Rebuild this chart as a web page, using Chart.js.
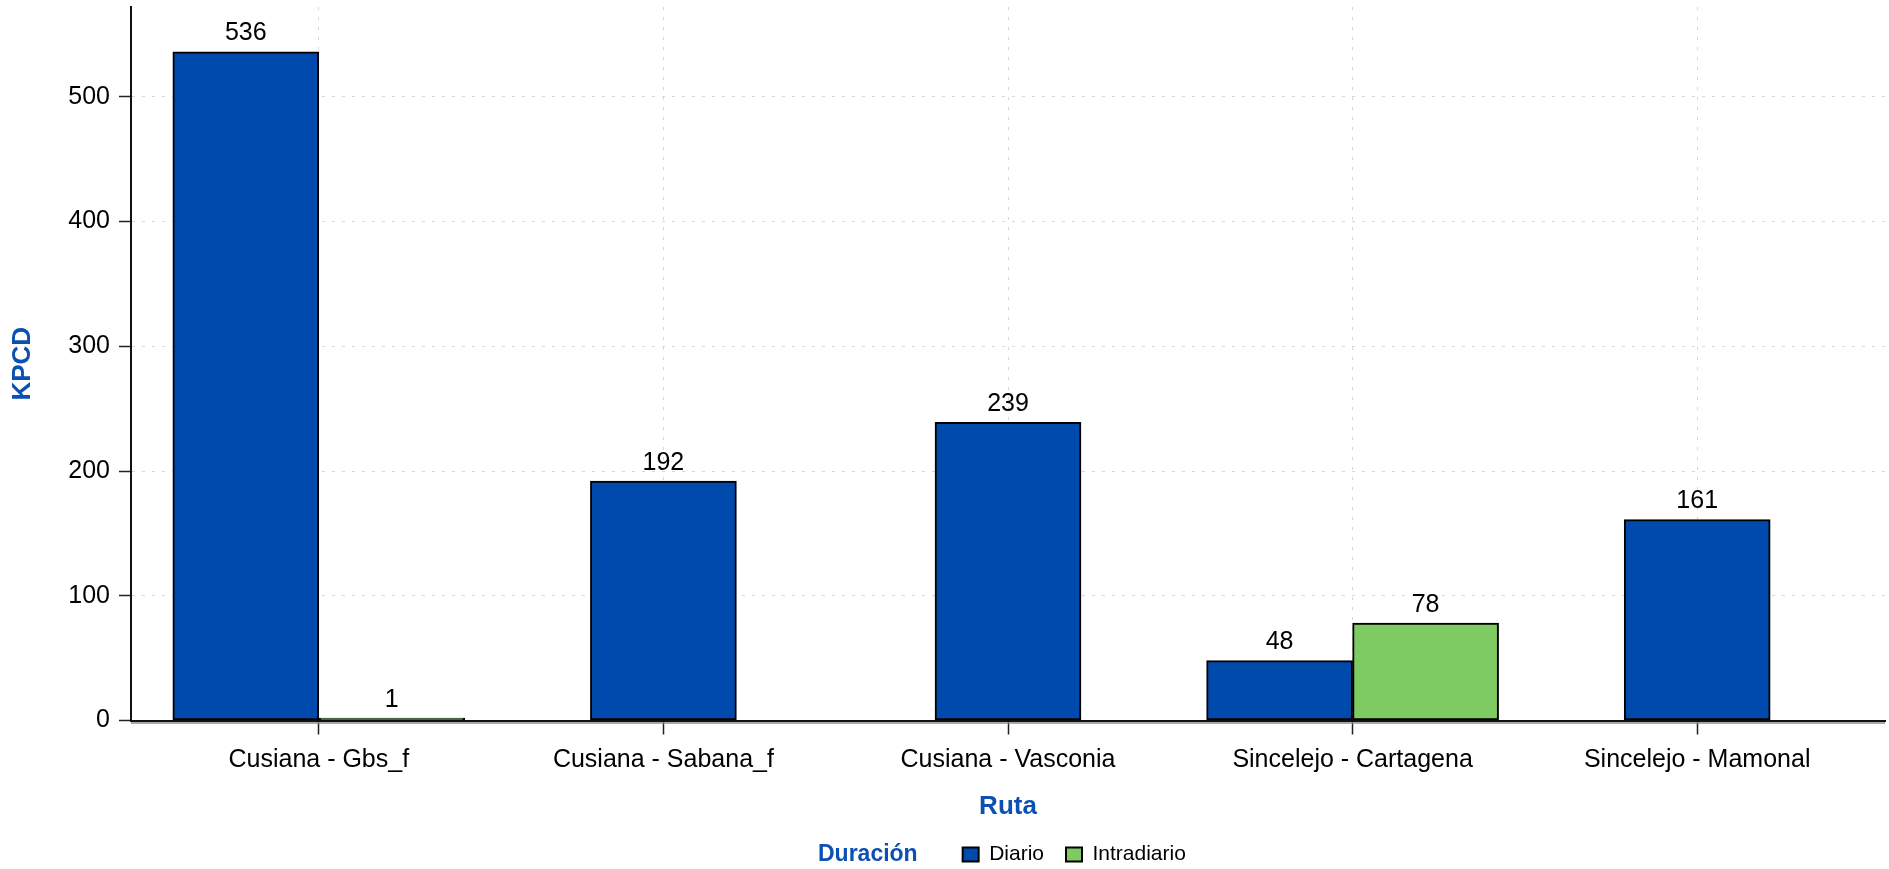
<!DOCTYPE html>
<html>
<head>
<meta charset="utf-8">
<title>KPCD por ruta</title>
<script src="https://cdn.jsdelivr.net/npm/chart.js@4.4.1/dist/chart.umd.min.js"></script>
<style>
  html, body { margin: 0; padding: 0; background: #fff; }
  #wrap { width: 1889px; height: 869px; }
</style>
</head>
<body>
<div id="wrap"><canvas id="myChart" width="1889" height="869"></canvas></div>
<script>
const categories = [
  "Cusiana - Gbs_f",
  "Cusiana - Sabana_f",
  "Cusiana - Vasconia",
  "Sincelejo - Cartagena",
  "Sincelejo - Mamonal",
];
const diario = [536, 192, 239, 48, 161];
const intradiario = [1, null, null, 78, null];
const yTicks = [0, 100, 200, 300, 400, 500];
const yMax = 572;
const seriesNames = ["Diario", "Intradiario"];
const legendTitle = "Duración";
const xTitle = "Ruta";
const yTitle = "KPCD";

const FONT = "'Liberation Sans', Arial, sans-serif";
const BLUE = "#004aad";
const GREEN = "#7dcb62";
const TITLE_BLUE = "#0d50b3";

// value labels above each bar
const barLabels = {
  id: "barLabels",
  afterDatasetsDraw(chart) {
    const ctx = chart.ctx;
    ctx.save();
    ctx.font = "25px " + FONT;
    ctx.fillStyle = "#000";
    ctx.textAlign = "center";
    ctx.textBaseline = "alphabetic";
    chart.data.datasets.forEach((ds, i) => {
      chart.getDatasetMeta(i).data.forEach((bar, j) => {
        const v = ds.data[j];
        if (v === null || v === undefined) return;
        ctx.fillText(v, bar.x, bar.y - 11.5);
      });
    });
    ctx.restore();
  }
};

// grey shadow line under the x axis + bold legend title
const extras = {
  id: "extras",
  afterDraw(chart) {
    const { ctx, chartArea } = chart;
    ctx.save();
    ctx.strokeStyle = "#8c8c8c";
    ctx.lineWidth = 1.5;
    ctx.beginPath();
    ctx.moveTo(chartArea.left, chartArea.bottom + 2.6);
    ctx.lineTo(chartArea.right, chartArea.bottom + 2.6);
    ctx.stroke();

    const boxes = chart.legend.legendHitBoxes;
    if (boxes && boxes.length > 1) {
      ctx.font = "bold 23px " + FONT;
      ctx.fillStyle = TITLE_BLUE;
      ctx.textAlign = "right";
      ctx.textBaseline = "middle";
      ctx.fillText(legendTitle, boxes[1].left - 45, boxes[1].top + boxes[1].height / 2);
    }
    ctx.restore();
  }
};

const ctx = document.getElementById("myChart");

new Chart(ctx, {
  type: "bar",
  data: {
    labels: categories,
    datasets: [
      { label: seriesNames[0], data: diario, backgroundColor: BLUE },
      { label: seriesNames[1], data: intradiario, backgroundColor: GREEN },
    ],
  },
  options: {
    responsive: false,
    animation: false,
    devicePixelRatio: 1,
    layout: { padding: { top: 7, right: 4, bottom: 0, left: 0 } },
    datasets: {
      bar: {
        barThickness: 146,
        minBarLength: 2.5,
        skipNull: true,
        borderColor: "#000",
        borderWidth: 2,
        borderSkipped: false,
      },
    },
    scales: {
      x: {
        offset: true,
        grid: {
          offset: false,
          color: "#d8d8d8",
          lineWidth: 1,
          tickLength: 14,
          tickColor: "#222",
          tickWidth: 1.5,
          tickBorderDash: [],
        },
        border: { color: "#111", width: 2, dash: [3, 7] },
        ticks: {
          color: "#000",
          font: { family: FONT, size: 25 },
          padding: 10.5,
          autoSkip: false,
          maxRotation: 0,
        },
        title: {
          display: true,
          text: xTitle,
          color: TITLE_BLUE,
          font: { family: FONT, size: 26, weight: "bold" },
          padding: { top: 0, bottom: 0 },
        },
        afterBuildTicks(scale) {
          // a bit more room at the ends than half a category
          scale._startValue -= 0.045;
          scale._valueRange += 0.09;
        },
        afterFit(scale) {
          scale.height = 101.5;
          scale.paddingLeft = 0;
          scale.paddingRight = 0;
        },
      },
      y: {
        min: 0,
        max: yMax,
        grid: {
          color: "#d8d8d8",
          lineWidth: 1,
          tickLength: 12,
          tickColor: "#222",
          tickWidth: 1.5,
          tickBorderDash: [],
        },
        border: { color: "#111", width: 2, dash: [3, 7] },
        ticks: {
          color: "#000",
          font: { family: FONT, size: 25 },
          padding: 9,
          includeBounds: false,
        },
        title: {
          display: true,
          text: yTitle,
          color: TITLE_BLUE,
          font: { family: FONT, size: 26, weight: "bold" },
          padding: { top: 7, bottom: 0 },
        },
        afterBuildTicks(scale) {
          scale.ticks = yTicks.map((v) => ({ value: v }));
        },
        afterFit(scale) {
          scale.width = 131;
          scale.paddingTop = 0;
          scale.paddingBottom = 0;
        },
      },
    },
    plugins: {
      legend: {
        position: "bottom",
        fullSize: false,
        maxHeight: 47,
        labels: {
          color: "#000",
          font: { family: FONT, size: 21 },
          boxWidth: 16,
          boxHeight: 14,
          padding: 22,
          generateLabels(chart) {
            const items = Chart.defaults.plugins.legend.labels.generateLabels(chart);
            // placeholder that keeps room for the title drawn by "extras"
            items.unshift({
              text: legendTitle,
              fillStyle: "rgba(0,0,0,0)",
              strokeStyle: "rgba(0,0,0,0)",
              lineWidth: 0,
              fontColor: "rgba(0,0,0,0)",
              hidden: false,
              datasetIndex: -1,
            });
            return items;
          },
        },
      },
      tooltip: { enabled: false },
    },
  },
  plugins: [barLabels, extras],
});
</script>
</body>
</html>
